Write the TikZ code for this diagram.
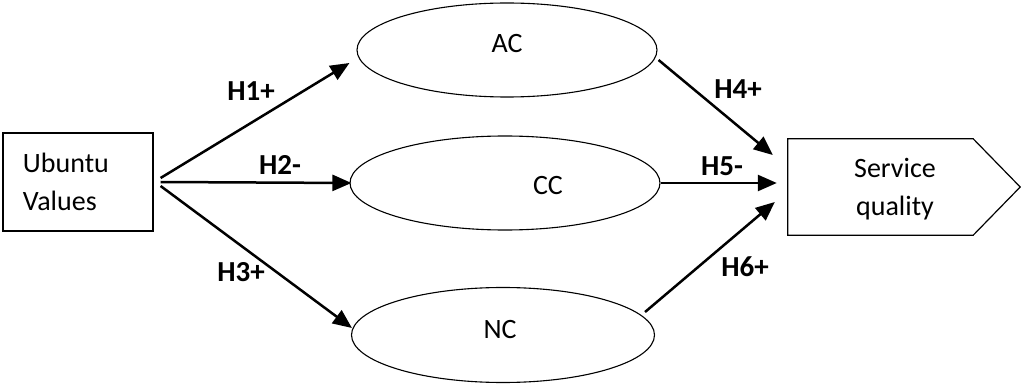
\documentclass[tikz,border=0pt]{standalone}
\usepackage{fontspec}
\setmainfont{Carlito}
\usetikzlibrary{arrows.meta,shapes.geometric}
\begin{document}
\begin{tikzpicture}[x=1pt,y=-1pt,
  every node/.style={font=\fontsize{28}{38}\selectfont},
  ell/.style={draw, ellipse, line width=1.1pt, minimum width=300pt, minimum height=94pt, inner sep=0pt},
  arr/.style={line width=2.5pt, -{Triangle[length=19pt,width=16pt]}},
  hyp/.style={font=\fontsize{29}{34}\selectfont\bfseries}]
\useasboundingbox (0,0) rectangle (1021,385);

% source construct
\node[draw, line width=1.2pt, minimum width=150pt, minimum height=98pt,
      text width=110pt, align=left, inner xsep=20pt, inner ysep=0pt] (ub) at (78,182) {Ubuntu\\Values};
\coordinate (ubout) at ([xshift=7pt]ub.east);

% mediating constructs
\node[ell] (ac) at (507,50) {};
\node[ell, minimum width=310pt] (cc) at (505,183) {};
\node[ell, minimum width=303pt, minimum height=95pt] (nc) at (503,335) {};
\node (actext) at (507,44) {AC};
\node (cctext) at (548,186) {CC};
\node (nctext) at (500,330) {NC};

% outcome construct (pentagon arrow)
\node[minimum width=185pt, minimum height=96pt, inner sep=0pt] (sq) at (880.5,187) {};
\draw[line width=1.2pt] (sq.north west) -- (sq.north east) -- ([xshift=47pt]sq.east)
  -- (sq.south east) -- (sq.south west) -- cycle;
\node[align=center] (sqtext) at (895,189) {Service\\quality};

% hypothesised paths
\draw[arr] ([shift={(0,-4)}]ubout) -- ([shift={(-7,13)}]ac.west);
\draw[arr] (ubout) -- ([xshift=2pt]cc.west);
\draw[arr] ([shift={(0,4)}]ubout) -- ([shift={(1,-7)}]nc.west);
\draw[arr] ([shift={(1,10)}]ac.east) -- ([shift={(-15,-32)}]sq.west);
\draw[arr] (cc.east) -- ([shift={(-11,-4)}]sq.west);
\draw[arr] ([shift={(-10,-23)}]nc.east) -- ([shift={(-13,15)}]sq.west);

% path labels
\node[hyp] (h1) at (251,91) {H1+};
\node[hyp] (h2) at (280,165) {H2-};
\node[hyp] (h3) at (241,272) {H3+};
\node[hyp] (h4) at (738,89) {H4+};
\node[hyp] (h5) at (722,166) {H5-};
\node[hyp] (h6) at (745,267) {H6+};
\end{tikzpicture}
\end{document}
